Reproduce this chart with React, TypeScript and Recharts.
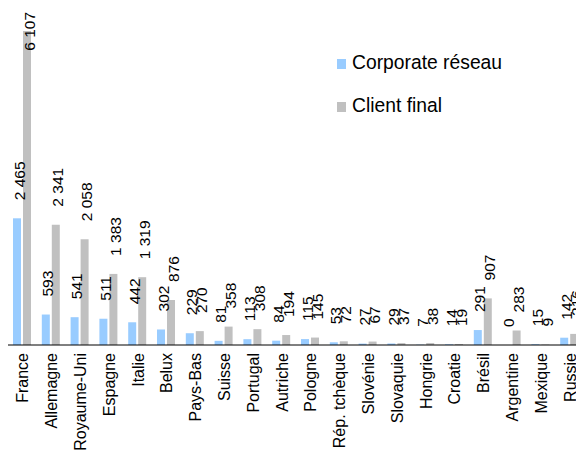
import { BarChart, Bar, XAxis, YAxis, Legend, LabelList } from 'recharts';

const countries = ['France', 'Allemagne', 'Royaume-Uni', 'Espagne', 'Italie', 'Belux', 'Pays-Bas', 'Suisse', 'Portugal', 'Autriche', 'Pologne', 'Rép. tchèque', 'Slovénie', 'Slovaquie', 'Hongrie', 'Croatie', 'Brésil', 'Argentine', 'Mexique', 'Russie'];
const corporateReseau = [2465, 593, 541, 511, 442, 302, 229, 81, 113, 84, 115, 53, 27, 29, 7, 14, 291, 0, 15, 142];
const clientFinal = [6107, 2341, 2058, 1383, 1319, 876, 270, 358, 308, 194, 145, 72, 67, 37, 38, 19, 907, 283, 9, 216];

const seriesNames = ['Corporate réseau', 'Client final'];
const seriesColors = ['#99CCFF', '#C0C0C0'];

const data = countries.map((c, i) => ({ name: c, corp: corporateReseau[i], client: clientFinal[i] }));

const FONT = '"Liberation Sans", Arial, sans-serif';

const fmt = (v: number) => v.toLocaleString('fr-FR').replace(/[\u202f\u00a0]/g, ' ');

// rotated value label, 18px above the bar, kept inside the chart at the top
const ValueLabel = (props: any) => {
  const { x, y, width, height, value } = props;
  const s = fmt(value);
  const len = s.replace(/ /g, '').length * 8.6 + (s.split(' ').length - 1) * 4.3;
  const cx = x + width / 2 + 2;
  const top = height < 0 ? y + height : y;
  const yy = Math.max(top - 18, 4 + len);
  return (
    <text transform={`translate(${cx + 5.6},${yy}) rotate(-90)`} textAnchor="start" fontSize={15.5} fontFamily={FONT} fill="#000">
      {s}
    </text>
  );
};

// tick y already includes tickSize + tickMargin (8px below the axis)
const CountryTick = (props: any) => {
  const { x, y, payload } = props;
  return (
    <text transform={`translate(${x + 6},${y}) rotate(-90)`} textAnchor="end" fontSize={16} fontFamily={FONT} fill="#000">
      {payload.value}
    </text>
  );
};

const LegendBox = () => (
  <div style={{ position: 'relative', fontFamily: FONT, fontSize: 19.3, lineHeight: '19px', color: '#000' }}>
    {seriesNames.map((n, i) => (
      <div key={n}>
        <div style={{ position: 'absolute', left: 329, top: 51 + i * 43, width: 9, height: 10, background: seriesColors[i] }} />
        <div style={{ position: 'absolute', left: 344, top: 45 + i * 43, whiteSpace: 'nowrap' }}>{n}</div>
      </div>
    ))}
  </div>
);

export default function App() {
  return (
    <BarChart width={576} height={446} data={data} margin={{ top: 0, right: 0, bottom: 0, left: 0 }} barCategoryGap={10} barGap={2} barSize={8}>
      <XAxis dataKey="name" interval={0} tickLine={false} axisLine={{ stroke: '#000', strokeWidth: 1 }} height={109} tick={<CountryTick />} />
      <YAxis hide domain={[0, 6556]} allowDataOverflow />
      <Legend
        layout="horizontal"
        verticalAlign="middle"
        align="center"
        content={<LegendBox />}
        wrapperStyle={{ position: 'absolute', left: 0, top: 0, width: 576, height: 0 }}
      />
      <Bar dataKey="corp" name={seriesNames[0]} fill={seriesColors[0]} minPointSize={0.01} isAnimationActive={false}>
        <LabelList dataKey="corp" content={<ValueLabel />} />
      </Bar>
      <Bar dataKey="client" name={seriesNames[1]} fill={seriesColors[1]} isAnimationActive={false}>
        <LabelList dataKey="client" content={<ValueLabel />} />
      </Bar>
    </BarChart>
  );
}
